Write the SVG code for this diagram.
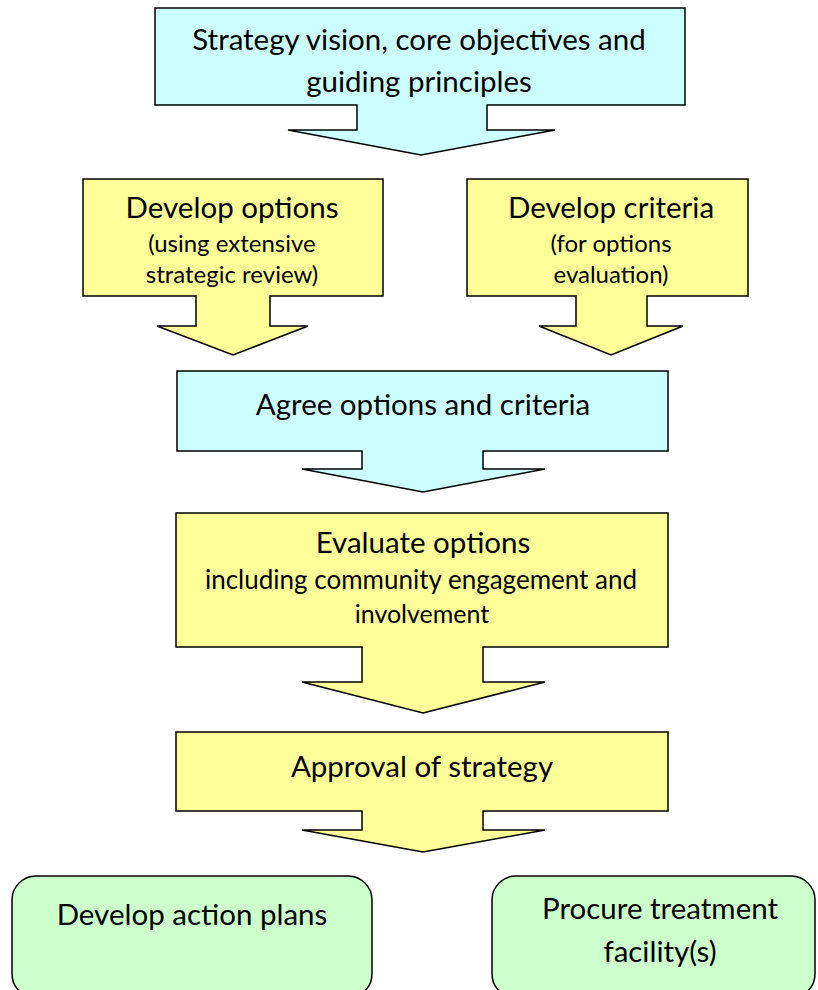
<svg xmlns="http://www.w3.org/2000/svg" width="818" height="990" viewBox="0 0 818 990">
<style>
.shape{stroke:#000;stroke-width:1.5;stroke-linejoin:miter}
.cyan{fill:#CCFFFF}
.yellow{fill:#FFFF99}
.green{fill:#CCFFCC}
text{font-family:"Lato","Liberation Sans",sans-serif;fill:#000;text-anchor:middle}
.big{font-size:29.5px}
.mid{font-size:26px}
.inv{font-size:25px}
.small{font-size:24px}
</style>
<rect width="818" height="990" fill="#fff"/>
<g id="n1">
<path class="shape cyan" d="M155,8 H685 V105 H487 V130 H555 L421,155 L288,130 H357 V105 H155 Z"/>
<text class="big" x="419" y="50">Strategy vision, core objectives and</text>
<text class="big" x="419" y="92">guiding principles</text>
</g>
<g id="n2">
<path class="shape yellow" d="M83,179 H383 V296 H270 V326 H308 L233,355 L157,326 H196 V296 H83 Z"/>
<text class="big" x="232" y="218">Develop options</text>
<text class="small" x="232" y="252">(using extensive</text>
<text class="small" x="232" y="283">strategic review)</text>
</g>
<g id="n3">
<path class="shape yellow" d="M467,179 H748 V296 H647 V326 H683 L611,355 L539,326 H576 V296 H467 Z"/>
<text class="big" x="611" y="218">Develop criteria</text>
<text class="small" x="611" y="252">(for options</text>
<text class="small" x="611" y="283">evaluation)</text>
</g>
<g id="n4">
<path class="shape cyan" d="M177,371 H668 V451 H483 V469 H545 L423,492 L302,469 H362 V451 H177 Z"/>
<text class="big" x="423" y="415">Agree options and criteria</text>
</g>
<g id="n5">
<path class="shape yellow" d="M176,513 H668 V647 H483 V682 H545 L423,713 L302,682 H362 V647 H176 Z"/>
<text class="big" x="423" y="553">Evaluate options</text>
<text class="mid" x="421" y="589">including community engagement and</text>
<text class="inv" x="422" y="623">involvement</text>
</g>
<g id="n6">
<path class="shape yellow" d="M176,732 H668 V811 H483 V830 H545 L423,852 L302,830 H362 V811 H176 Z"/>
<text class="big" x="422" y="777">Approval of strategy</text>
</g>
<g id="n7">
<rect class="shape green" x="12" y="876" width="360" height="122" rx="24"/>
<text class="big" x="192" y="925">Develop action plans</text>
</g>
<g id="n8">
<rect class="shape green" x="492" y="876" width="323" height="122" rx="24"/>
<text class="big" x="660" y="919">Procure treatment</text>
<text class="big" x="660" y="962">facility(s)</text>
</g>
<g id="connectors"></g>
</svg>
